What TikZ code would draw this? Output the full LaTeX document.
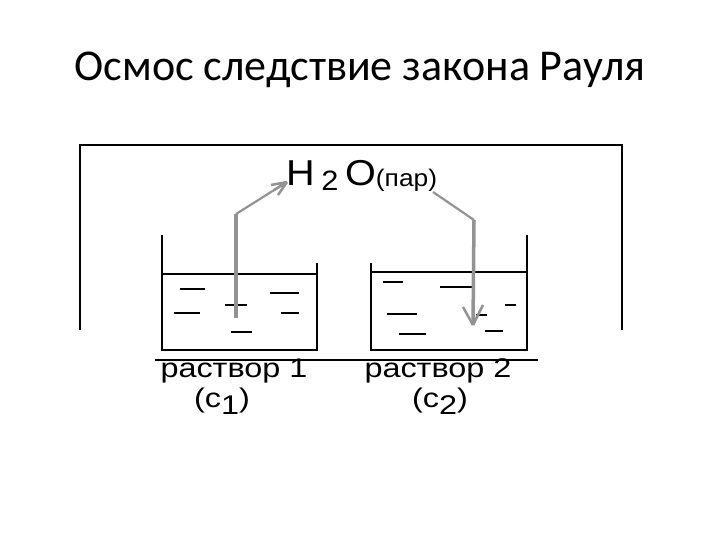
\documentclass[tikz,border=0pt]{standalone}
\usepackage{fontspec}
\setmainfont{Liberation Sans}
\newfontfamily\titlefont{Carlito}
\begin{document}
\begin{tikzpicture}[x=1pt,y=-1pt,
  wall/.style={line width=2.2pt},
  solmark/.style={line width=1.6pt},
  vap/.style={line width=3.5pt,draw=gray!85},
  lbl/.style={inner sep=0pt,anchor=base,xscale=1.2,font=\fontsize{27}{30}\selectfont}]
\useasboundingbox (0,0) rectangle (720,540);
\node[inner sep=0pt,font=\titlefont\fontsize{44}{48}\selectfont] (title) at (360,70) {Осмос следствие закона Рауля};
\draw[wall] (80,330) -- (80,145) -- (622,145) -- (622,330);
\draw[wall] (155,360) -- (538,360);
\draw[wall] (162,235) -- (162,350) -- (317,350) -- (317,263);
\draw[line width=1.6pt] (162,274) -- (317,274);
\draw[wall] (371,263) -- (371,350) -- (527,350) -- (527,235);
\draw[line width=1.6pt] (371,272) -- (527,272);
\foreach \a/\b/\y in {180/205/289,270/299/293,174/200/313,225/247/305,281/299/313,231/252/332,
  383/403/282,440/473/287,387/417/314,399/426/334,505/516/305,476/487/315,485/503/331}
  \draw[solmark] (\a,\y) -- (\b,\y);
\node[inner sep=0pt,anchor=base west,xscale=1.1,font=\fontsize{36}{38}\selectfont] (h2o) at (286,186) {H\,\raisebox{-5pt}{\fontsize{28}{30}\selectfont 2}\,O\raisebox{-1pt}{\fontsize{24}{26}\selectfont(пар)}};
\node[lbl] (r1) at (234,377) {раствор 1};
\node[lbl] (c1) at (222,407) {(c\raisebox{-7pt}{1})};
\node[lbl] (r2) at (438,377) {раствор 2};
\node[lbl] (c2) at (440,407) {(c\raisebox{-7pt}{2})};
\coordinate (a1) at (236,318);
\coordinate (a1k) at (236,214);
\coordinate (a1e) at (287,182);
\draw[vap] (a1) -- (a1k);
\draw[vap,line width=2.2pt] (a1k) -- (a1e);
\draw[vap,line width=2.5pt] (a1e) -- ++(-16,3) (a1e) -- ++(-9,13) (a1e) -- ++(-13,8);
\coordinate (b1) at (433,192);
\coordinate (b1k) at (474,220);
\coordinate (b1e) at (473,325);
\draw[vap,line width=2.2pt] (b1) -- (b1k);
\draw[vap] (b1k) -- (b1e);
\draw[vap,line width=2.5pt] (b1e) -- ++(-10,-18) (b1e) -- ++(10,-20);
\end{tikzpicture}
\end{document}
